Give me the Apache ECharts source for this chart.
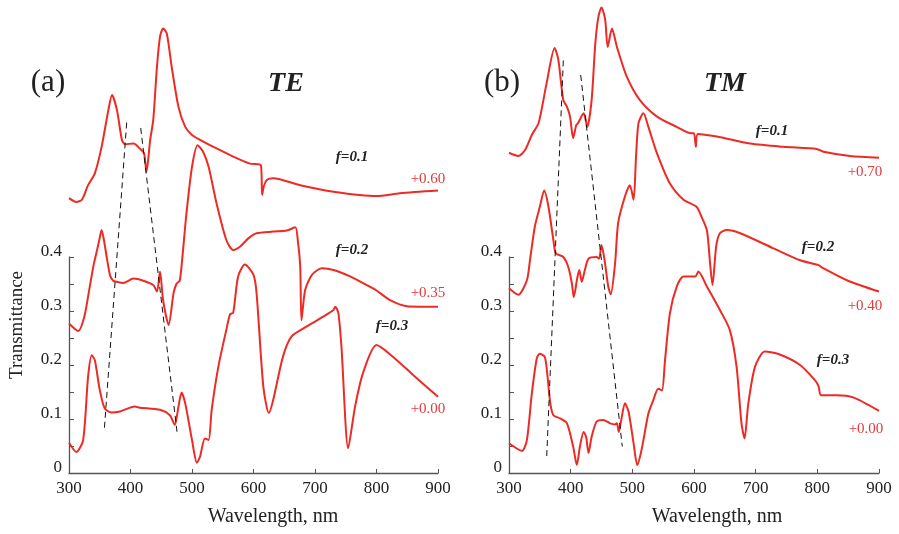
<!DOCTYPE html>
<html>
<head>
<meta charset="utf-8">
<script src="https://cdn.jsdelivr.net/npm/echarts@6/dist/echarts.min.js"></script>
<style>
html,body{margin:0;padding:0;background:#fff;}
#c{width:899px;height:534px;}
</style>
</head>
<body>
<div id="c"></div>
<script>
// ---- axis ticks ----
const xTicks = [300, 400, 500, 600, 700, 800, 900];
const yTicks = [0, 0.1, 0.2, 0.3, 0.4];

// ---- TE panel (a) ----
const teWl1 = [300,312,321,331,342,353,364,370,378,386,391,405,415,422,426,432,437,443,448,453,459,467,478,489,500,513,540,567,594,612,614,617,622,632,676,730,800,838,900];
const teT1  = [0.509,0.502,0.506,0.533,0.555,0.604,0.672,0.700,0.672,0.617,0.609,0.610,0.601,0.592,0.558,0.617,0.654,0.752,0.808,0.823,0.814,0.752,0.678,0.641,0.626,0.617,0.601,0.586,0.573,0.570,0.515,0.532,0.543,0.546,0.533,0.521,0.513,0.518,0.523];

const teWl2 = [300,315,325,333,340,345,349,353,357,362,367,372,378,388,405,421,437,443,448,453,462,470,475,480,484,491,500,509,518,527,540,556,567,578,592,605,632,654,668,672,676,678,684,695,711,730,757,784,800,822,849,900];
const teT2  = [0.277,0.263,0.29,0.34,0.385,0.41,0.43,0.450,0.43,0.395,0.365,0.356,0.354,0.352,0.360,0.356,0.348,0.336,0.373,0.320,0.274,0.333,0.351,0.356,0.395,0.481,0.567,0.607,0.595,0.567,0.499,0.431,0.413,0.419,0.435,0.444,0.447,0.449,0.455,0.431,0.382,0.283,0.339,0.367,0.379,0.376,0.364,0.348,0.338,0.320,0.309,0.308];

const teWl3 = [300,312,323,331,337,342,350,358,369,383,407,415,448,464,472,478,483,489,500,508,513,521,527,532,543,556,562,567,575,586,600,605,616,625,632,648,662,686,714,730,733,738,743,754,765,778,800,827,860,900];
const teT3  = [0.056,0.039,0.061,0.178,0.218,0.209,0.154,0.120,0.112,0.114,0.123,0.121,0.117,0.107,0.089,0.123,0.149,0.129,0.061,0.019,0.030,0.064,0.061,0.117,0.198,0.266,0.294,0.297,0.364,0.386,0.367,0.333,0.160,0.111,0.135,0.216,0.253,0.271,0.290,0.302,0.308,0.296,0.234,0.046,0.122,0.185,0.237,0.215,0.181,0.141];

const teDash1 = [[393.8,0.649],[357.4,0.080]];
const teDash2 = [[416.6,0.639],[476.1,0.072]];

// ---- TM panel (b) ----
const tmWl1 = [300,315,326,337,348,361,374,380,388,394,399,404,409,412,421,427,434,440,445,450,456,460,467,475,491,512,540,572,596,600,603,606,637,691,745,799,810,853,900];
const tmT1  = [0.593,0.587,0.598,0.626,0.648,0.722,0.787,0.765,0.691,0.678,0.660,0.620,0.644,0.648,0.666,0.641,0.691,0.796,0.845,0.862,0.839,0.789,0.823,0.789,0.734,0.691,0.660,0.641,0.629,0.629,0.604,0.628,0.623,0.610,0.604,0.600,0.595,0.587,0.584];

const tmWl2 = [300,315,329,334,342,350,357,364,372,376,388,396,402,405,411,414,418,423,429,442,446,450,455,461,465,472,477,488,496,502,506,510,518,526,540,561,583,604,612,621,626,630,636,642,653,675,729,772,802,807,848,900];
const tmT2  = [0.342,0.330,0.357,0.394,0.457,0.493,0.523,0.493,0.431,0.407,0.400,0.382,0.351,0.326,0.363,0.376,0.354,0.376,0.397,0.400,0.397,0.422,0.394,0.345,0.331,0.388,0.463,0.512,0.533,0.506,0.586,0.648,0.666,0.641,0.592,0.536,0.506,0.493,0.475,0.449,0.389,0.348,0.420,0.444,0.450,0.444,0.416,0.394,0.385,0.381,0.357,0.336];

const tmWl3 = [300,321,329,337,345,350,358,362,367,372,383,394,404,410,415,421,425,429,434,442,453,464,472,475,478,482,488,494,502,508,515,526,534,542,548,553,561,572,583,602,607,621,642,658,669,677,682,688,699,715,740,772,796,802,806,831,858,900];
const tmT3  = [0.055,0.041,0.061,0.147,0.212,0.221,0.215,0.184,0.129,0.107,0.101,0.092,0.049,0.015,0.049,0.076,0.067,0.037,0.067,0.095,0.098,0.092,0.090,0.092,0.076,0.098,0.129,0.113,0.055,0.015,0.043,0.110,0.135,0.156,0.153,0.209,0.296,0.345,0.364,0.364,0.373,0.345,0.302,0.265,0.197,0.092,0.064,0.128,0.197,0.225,0.219,0.200,0.172,0.161,0.144,0.144,0.140,0.115];

const tmDash1 = [[388.1,0.764],[361.1,0.029]];
const tmDash2 = [[416.3,0.737],[483.7,0.049]];

// ---- labels ----
const panelLabels = ['(a)', '(b)'];
const polLabels = ['TE', 'TM'];
const fLabels = ['f=0.1', 'f=0.2', 'f=0.3'];
const teOffsets = ['+0.60', '+0.35', '+0.00'];
const tmOffsets = ['+0.70', '+0.40', '+0.00'];

const RED = '#ee2a24';
const OFFRED = '#df3b3b';
const TXT = '#222';
const AX = '#555';
const SERIF = '"Liberation Serif", "DejaVu Serif", serif';

function zip(w, t) { return w.map((v, i) => [v, t[i]]); }

function curve(idx, w, t) {
  return {
    type: 'line', xAxisIndex: idx, yAxisIndex: idx, data: zip(w, t),
    showSymbol: false, symbol: 'none', clip: false, smooth: 0.25,
    lineStyle: { color: RED, width: 2 }, silent: true, animation: false
  };
}
function dash(idx, d) {
  return {
    type: 'line', xAxisIndex: idx, yAxisIndex: idx, data: d,
    showSymbol: false, symbol: 'none', clip: false,
    lineStyle: { color: '#111', width: 1, type: [6, 4] }, silent: true, animation: false
  };
}

const grids = [
  { left: 69, width: 369, top: 257, height: 216 },
  { left: 509, width: 370, top: 257, height: 216 }
];

function xAx(i) {
  return {
    gridIndex: i, type: 'value', min: xTicks[0], max: xTicks[xTicks.length - 1], interval: 100,
    axisLine: { show: true, lineStyle: { color: AX, width: 1.3 } },
    axisTick: { show: true, inside: true, length: 4, lineStyle: { color: AX } },
    axisLabel: { show: true, margin: 7, fontFamily: SERIF, fontSize: 17, color: TXT },
    splitLine: { show: false }
  };
}
function yAx(i) {
  return {
    gridIndex: i, type: 'value', min: yTicks[0], max: yTicks[yTicks.length - 1], interval: 0.1,
    axisLine: { show: true, onZero: false, lineStyle: { color: AX, width: 1.3 } },
    axisTick: { show: true, inside: true, length: 5, lineStyle: { color: AX } },
    minorTick: { show: true, splitNumber: 2, length: 5, lineStyle: { color: AX } },
    axisLabel: {
      show: true, margin: 7, fontFamily: SERIF, fontSize: 17, color: TXT,
      verticalAlign: 'bottom', lineHeight: 10, padding: [0, 0, 0, 0],
      formatter: v => (Math.abs(v) < 1e-9 ? '0' : v.toFixed(1))
    },
    splitLine: { show: false }, minorSplitLine: { show: false }
  };
}

function txt(x, y, s, size, color, weight, style, extra) {
  return {
    type: 'text', x: x, y: y, silent: true,
    style: Object.assign({
      text: s, fill: color, font: (style || 'normal') + ' ' + (weight || 'normal') + ' ' + size + 'px ' + SERIF,
      align: 'center', verticalAlign: 'middle'
    }, extra || {})
  };
}

const graphics = [
  txt(48, 83, panelLabels[0], 31, TXT),
  txt(286, 84, polLabels[0], 28, TXT, 'bold', 'italic'),
  txt(502, 83, panelLabels[1], 31, TXT),
  txt(725, 84, polLabels[1], 28, TXT, 'bold', 'italic'),
  txt(352, 157, fLabels[0], 15, TXT, 'bold', 'italic'),
  txt(352, 250, fLabels[1], 15, TXT, 'bold', 'italic'),
  txt(392, 326, fLabels[2], 15, TXT, 'bold', 'italic'),
  txt(428, 179, teOffsets[0], 15, OFFRED),
  txt(428, 293, teOffsets[1], 15, OFFRED),
  txt(428, 409, teOffsets[2], 15, OFFRED),
  txt(772, 131, fLabels[0], 15, TXT, 'bold', 'italic'),
  txt(818, 247, fLabels[1], 15, TXT, 'bold', 'italic'),
  txt(833, 360, fLabels[2], 15, TXT, 'bold', 'italic'),
  txt(865, 172, tmOffsets[0], 15, OFFRED),
  txt(865, 306, tmOffsets[1], 15, OFFRED),
  txt(866, 429, tmOffsets[2], 15, OFFRED),
  txt(273, 517, 'Wavelength, nm', 20, TXT),
  txt(717, 517, 'Wavelength, nm', 20, TXT),
  { type: 'text', x: 17, y: 325, rotation: Math.PI / 2, silent: true,
    style: { text: 'Transmittance', fill: TXT, font: 'normal normal 19px ' + SERIF, align: 'center', verticalAlign: 'middle' } }
];

const chart = echarts.init(document.getElementById('c'), null, { renderer: 'canvas' });
chart.setOption({
  animation: false,
  backgroundColor: '#fff',
  grid: grids,
  xAxis: [xAx(0), xAx(1)],
  yAxis: [yAx(0), yAx(1)],
  series: [
    curve(0, teWl1, teT1), curve(0, teWl2, teT2), curve(0, teWl3, teT3),
    dash(0, teDash1), dash(0, teDash2),
    curve(1, tmWl1, tmT1), curve(1, tmWl2, tmT2), curve(1, tmWl3, tmT3),
    dash(1, tmDash1), dash(1, tmDash2)
  ],
  graphic: graphics
});
</script>
</body>
</html>
